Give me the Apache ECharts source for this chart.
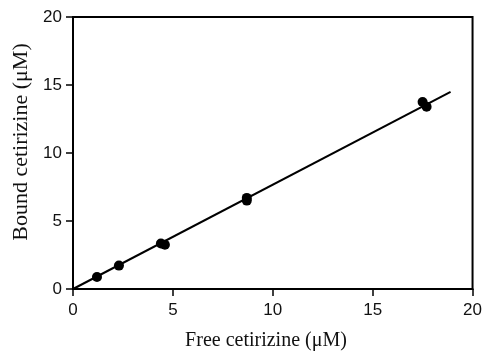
<!DOCTYPE html>
<html>
<head>
<meta charset="utf-8">
<script src="https://cdn.jsdelivr.net/npm/echarts@6/dist/echarts.min.js"></script>
<style>
  html, body { margin: 0; padding: 0; background: #fff; }
  #chart { width: 485px; height: 352px; }
</style>
</head>
<body>
<div id="chart"></div>
<script>
// Free vs bound cetirizine measurements (µM)
const freeConc = [1.2, 2.3, 4.4, 4.6, 8.7, 8.7, 17.5, 17.7];
const boundConc = [0.88, 1.72, 3.35, 3.25, 6.5, 6.7, 13.75, 13.4];

// Linear fit endpoints
const fitX = [0, 18.9];
const fitY = [0, 14.5];

const xTicks = [0, 5, 10, 15, 20];
const yTicks = [0, 5, 10, 15, 20];

const xTitle = 'Free cetirizine (\u03bcM)';
const yTitle = 'Bound cetirizine (\u03bcM)';

const chart = echarts.init(document.getElementById('chart'));

const labelFont = {
  color: '#111',
  fontFamily: 'Liberation Sans, Arial, sans-serif',
  fontSize: 17
};
const titleFont = 'Liberation Serif, Times New Roman, serif';

const axisCommon = {
  min: 0,
  max: 20,
  interval: 5,
  axisLine: { show: true, lineStyle: { color: '#000', width: 2 } },
  axisTick: { show: true, inside: false, length: 7, lineStyle: { color: '#000', width: 1.5 } },
  splitLine: { show: false }
};

chart.setOption({
  backgroundColor: '#fff',
  animation: false,
  grid: {
    left: 73, right: 10, top: 17, bottom: 63,
    show: true,
    borderColor: '#000',
    borderWidth: 2
  },
  xAxis: Object.assign({}, axisCommon, {
    type: 'value',
    axisLabel: Object.assign({}, labelFont, {
      margin: 13,
      formatter: v => xTicks.includes(v) ? String(v) : ''
    })
  }),
  yAxis: Object.assign({}, axisCommon, {
    type: 'value',
    axisLabel: Object.assign({}, labelFont, {
      margin: 11,
      formatter: v => yTicks.includes(v) ? String(v) : ''
    })
  }),
  graphic: [
    {
      type: 'text',
      x: 266, y: 341,
      style: {
        text: xTitle,
        fill: '#111',
        font: '20px ' + titleFont,
        align: 'center',
        verticalAlign: 'middle'
      }
    },
    {
      type: 'text',
      x: 21, y: 142,
      rotation: Math.PI / 2,
      style: {
        text: yTitle,
        fill: '#111',
        font: '22px ' + titleFont,
        align: 'center',
        verticalAlign: 'middle'
      }
    }
  ],
  series: [
    {
      type: 'line',
      data: fitX.map((x, i) => [x, fitY[i]]),
      showSymbol: false,
      lineStyle: { color: '#000', width: 2 },
      z: 2
    },
    {
      type: 'scatter',
      data: freeConc.map((x, i) => [x, boundConc[i]]),
      symbol: 'circle',
      symbolSize: 10,
      itemStyle: { color: '#000', opacity: 1 },
      z: 3
    }
  ]
});
</script>
</body>
</html>
